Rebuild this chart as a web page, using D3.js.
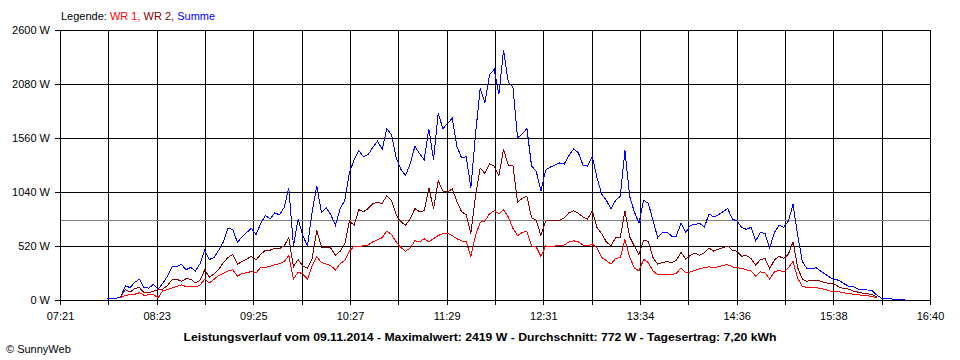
<!DOCTYPE html>
<html><head><meta charset="utf-8">
<script src="https://cdn.jsdelivr.net/npm/d3@7"></script>
<style>
html,body{margin:0;padding:0;background:#fff;}
svg{display:block;font-family:"Liberation Sans",Arial,sans-serif;}
</style></head><body>
<svg id="c" width="960" height="360"></svg>
<script>
const times = [
"07:51","07:54","07:57","08:00","08:03","08:06","08:09","08:12","08:15","08:18",
"08:21","08:24","08:27","08:30","08:33","08:36","08:39","08:42","08:45","08:48",
"08:51","08:54","08:57","09:00","09:03","09:06","09:09","09:12","09:15","09:18",
"09:21","09:24","09:27","09:30","09:33","09:36","09:39","09:42","09:45","09:48",
"09:51","09:54","09:57","10:00","10:03","10:06","10:09","10:12","10:15","10:18",
"10:21","10:24","10:27","10:30","10:33","10:36","10:39","10:42","10:45","10:48",
"10:51","10:54","10:57","11:00","11:03","11:06","11:09","11:12","11:15","11:18",
"11:21","11:24","11:27","11:30","11:33","11:36","11:39","11:42","11:45","11:48",
"11:51","11:54","11:57","12:00","12:03","12:06","12:09","12:12","12:15","12:18",
"12:21","12:24","12:27","12:30","12:33","12:36","12:39","12:42","12:45","12:48",
"12:51","12:54","12:57","13:00","13:03","13:06","13:09","13:12","13:15","13:18",
"13:21","13:24","13:27","13:30","13:33","13:36","13:39","13:42","13:45","13:48",
"13:51","13:54","13:57","14:00","14:03","14:06","14:09","14:12","14:15","14:18",
"14:21","14:24","14:27","14:30","14:33","14:36","14:39","14:42","14:45","14:48",
"14:51","14:54","14:57","15:00","15:03","15:06","15:09","15:12","15:15","15:18",
"15:21","15:24","15:27","15:30","15:33","15:36","15:39","15:42","15:45","15:48",
"15:51","15:54","15:57","16:00","16:03","16:06","16:09","16:12","16:15","16:18",
"16:21","16:24"];

const summe = [
10,12,15,30,135,120,170,200,120,115,
150,105,160,230,320,320,345,290,315,280,
350,480,390,410,480,560,690,680,555,610,
650,690,630,740,815,780,840,820,890,1080,
520,780,620,520,850,1100,840,890,820,720,
880,960,1230,1350,1440,1380,1400,1470,1530,1450,
1650,1590,1370,1260,1200,1310,1480,1410,1350,1650,
1350,1800,1650,1700,1750,1480,1370,1380,1080,1600,
2040,1900,2170,2220,1980,2410,2100,2050,1560,1600,
1650,1290,1240,1050,1250,1280,1300,1320,1310,1390,
1455,1420,1300,1290,1380,1180,1020,960,880,960,
1000,1440,1000,850,740,960,930,770,600,650,
655,615,615,740,650,720,725,740,700,830,
800,820,850,880,780,760,700,680,700,570,
650,640,500,650,720,700,760,920,620,370,
300,305,310,275,245,215,200,186,155,130,
125,105,100,96,88,45,16,12,10,8,
6,5];

const wr2 = [
null,null,null,30,100,75,110,120,70,70,
85,100,105,140,195,200,180,205,200,165,
190,290,220,250,295,360,410,440,345,370,
395,420,385,440,480,480,500,495,520,600,
320,390,330,305,400,670,510,510,500,430,
470,540,760,720,870,850,880,930,940,930,
1005,960,820,755,720,780,880,850,860,1080,
880,1150,1050,1040,1070,950,850,820,640,1000,
1270,1220,1310,1290,1200,1450,1300,1300,940,980,
1000,790,770,620,760,770,770,770,790,840,
860,835,800,780,860,700,640,560,520,600,
600,860,610,520,440,575,565,410,345,360,
370,360,380,460,395,430,450,430,455,500,
470,490,505,520,480,470,420,430,400,335,
390,400,300,385,420,400,440,560,310,200,
180,190,190,180,165,160,150,120,110,105,
85,75,65,62,50,30,null,null,null,null,
null,null];

const wr1 = [
null,null,null,20,45,50,55,70,45,50,
55,20,90,100,115,130,145,130,130,125,
145,200,165,200,235,255,280,290,230,255,
262,275,262,315,315,325,340,350,370,430,
200,270,250,200,330,417,360,345,330,290,
350,380,470,520,510,525,530,560,580,600,
665,630,560,505,470,500,570,560,590,560,
590,620,640,645,620,590,570,560,420,620,
750,760,830,860,830,870,800,690,620,650,
660,520,510,420,520,510,520,525,530,560,
570,560,530,520,540,500,410,380,345,400,
410,580,415,310,280,390,360,280,245,242,
250,245,255,310,265,270,285,300,310,320,
310,320,335,340,320,310,305,290,280,230,
270,260,200,270,285,270,310,370,210,130,
122,122,118,112,100,85,80,78,68,64,
55,50,45,40,32,20,null,null,null,null,
null,null];

const yTicks = [0, 520, 1040, 1560, 2080, 2600];
const xTickLabels = ["07:21","08:23","09:25","10:27","11:29","12:31","13:34","14:36","15:38","16:40"];
const average = 772;
const legendParts = [
  {text: "Legende: ", color: "#000000"},
  {text: "WR 1, ", color: "#ff0000"},
  {text: "WR 2, ", color: "#800000"},
  {text: "Summe", color: "#0000ff"}
];
const titleText = "Leistungsverlauf vom 09.11.2014 - Maximalwert: 2419 W - Durchschnitt: 772 W - Tagesertrag: 7,20 kWh";
const copyrightText = "\u00A9 SunnyWeb";

const parse = d3.timeParse("%H:%M");
const t0 = parse("07:21"), t1 = parse("16:40");
const x = d3.scaleTime().domain([t0, t1]).range([60, 930]);
const y = d3.scaleLinear().domain([0, 2600]).range([300, 30]);

const svg = d3.select("#c");
svg.append("rect").attr("width", 960).attr("height", 360).attr("fill", "#fff");

// vertical grid (18 intervals)
const gridTimes = d3.range(19).map(i => new Date(+t0 + i * (t1 - t0) / 18));
const grid = svg.append("g").attr("shape-rendering", "crispEdges");
grid.selectAll("line.v").data(gridTimes).join("line")
  .attr("x1", d => Math.round(x(d)) + 0.5).attr("x2", d => Math.round(x(d)) + 0.5)
  .attr("y1", y(2600)).attr("y2", 305)
  .attr("stroke", "#000").attr("stroke-width", 1);
grid.selectAll("line.h").data(yTicks).join("line")
  .attr("x1", 55).attr("x2", 931)
  .attr("y1", d => Math.round(y(d)) + 0.5).attr("y2", d => Math.round(y(d)) + 0.5)
  .attr("stroke", "#000").attr("stroke-width", 1);
// average line
grid.append("line")
  .attr("x1", 61).attr("x2", 930)
  .attr("y1", Math.round(y(average)) + 0.5).attr("y2", Math.round(y(average)) + 0.5)
  .attr("stroke", "#808080").attr("stroke-width", 1);

// axes (labels only, grid drawn above)
const labelTimes = gridTimes.filter((d, i) => i % 2 === 0);
const xAxis = d3.axisBottom(x).tickValues(labelTimes)
  .tickFormat((d, i) => xTickLabels[i]).tickSize(5).tickPadding(7);
const gx = svg.append("g").attr("transform", "translate(0,300)").call(xAxis);
gx.select(".domain").remove();
gx.selectAll(".tick line").remove();
gx.selectAll("text").attr("font-size", 11).attr("font-family", "Liberation Sans, Arial, sans-serif").attr("fill", "#000");

const yAxis = d3.axisLeft(y).tickValues(yTicks).tickFormat(d => d + " W").tickSize(5).tickPadding(5);
const gy = svg.append("g").attr("transform", "translate(60,0)").call(yAxis);
gy.select(".domain").remove();
gy.selectAll(".tick line").remove();
gy.selectAll("text").attr("font-size", 11).attr("font-family", "Liberation Sans, Arial, sans-serif").attr("fill", "#000");

// series
const seriesList = [
  {values: summe, color: "#0000ff"},
  {values: wr2, color: "#800000"},
  {values: wr1, color: "#ff0000"}
];
const line = d3.line()
  .defined(d => d.v !== null)
  .x(d => x(d.t)).y(d => y(d.v));
seriesList.forEach(s => {
  const pts = times.map((t, i) => ({t: parse(t), v: s.values[i]}));
  svg.append("path").datum(pts)
    .attr("d", line)
    .attr("fill", "none").attr("stroke", s.color).attr("stroke-width", 1)
    .attr("shape-rendering", "crispEdges");
});

// legend
const leg = svg.append("text").attr("x", 61).attr("y", 20).attr("font-size", 11);
legendParts.forEach(p => {
  leg.append("tspan").attr("fill", p.color).attr("xml:space", "preserve").text(p.text);
});
leg.style("white-space", "pre");

// title
svg.append("text").attr("x", 480).attr("y", 341).attr("text-anchor", "middle")
  .attr("font-size", 11).attr("font-weight", "bold")
  .attr("textLength", 593).attr("lengthAdjust", "spacingAndGlyphs")
  .text(titleText);

// copyright
svg.append("text").attr("x", 6).attr("y", 353).attr("font-size", 11).text(copyrightText);
</script>
</body></html>
